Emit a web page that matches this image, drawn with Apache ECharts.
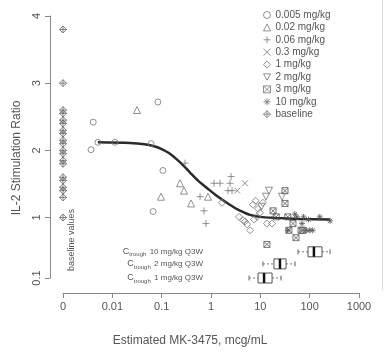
<!DOCTYPE html>
<html>
<head>
<meta charset="utf-8">
<script src="https://cdn.jsdelivr.net/npm/echarts@6/dist/echarts.min.js"></script>
<style>
  html, body { margin: 0; padding: 0; background: #fff; }
  #main { width: 388px; height: 352px; }
</style>
</head>
<body>
<div id="main"></div>
<script>
// x ticks (log axis, the "0" column sits at 0.001)
var xTickValues = [0.001, 0.01, 0.1, 1, 10, 100, 1000];
var xTickLabels = ['0', '0.01', '0.1', '1', '10', '100', '1000'];
var yTickValues = [0.1, 1, 2, 3, 4];

// points: [concentration, ratio]
var dose0005 = [[0.0041, 2.42], [0.0037, 2.01], [0.0051, 2.12], [0.0113, 2.12], [0.084, 2.72], [0.061, 2.10], [0.106, 1.70], [0.067, 1.09]];
var dose002 = [[0.0316, 2.60], [0.236, 1.51], [0.284, 1.40], [0.097, 1.31], [0.394, 1.21], [0.87, 1.31]];
var dose006 = [[0.297, 1.81], [0.60, 1.31], [0.72, 1.10], [0.79, 0.91], [1.15, 1.51], [1.52, 1.51], [2.55, 1.61], [2.21, 1.40], [2.67, 1.40], [2.43, 1.51]];
var dose03 = [[4.9, 1.51], [3.4, 1.40]];
var dose1 = [[1.67, 1.22], [3.7, 1.01], [4.46, 0.96], [4.9, 0.94], [5.4, 0.90], [6.2, 0.81], [7.1, 1.19], [8.0, 1.25], [9.0, 1.13], [9.8, 1.07], [11.3, 1.22], [8.6, 1.01], [13.6, 0.91], [17.2, 0.91], [7.5, 0.97]];
var dose2 = [[13.0, 1.31], [15.0, 1.40], [27.5, 1.31], [10.5, 1.16]];
var dose3 = [[31.6, 1.40], [31.6, 1.21], [18.1, 1.10], [13.6, 0.60], [45.9, 0.91], [52.8, 0.70], [38, 0.81], [67, 0.81], [73, 0.81], [21, 1.01], [36, 1.01]];
var dose10 = [[55, 1.01], [75, 1.01], [160, 1.01], [260, 0.95], [36, 0.81], [85, 0.81], [100, 0.81], [115, 0.81], [70, 0.91], [50, 1.05], [95, 0.97]];
var baselineX = 0.001;
var baselineY = [3.8, 3.0, 2.6, 2.55, 2.45, 2.4, 2.3, 2.25, 2.15, 2.1, 2.0, 1.95, 1.85, 1.8, 1.6, 1.55, 1.45, 1.4, 1.3, 1.0];

// fitted curve, traced
var fitX = [0.0051, 0.0228, 0.045, 0.07, 0.1, 0.14, 0.2, 0.28, 0.376, 0.546, 0.83, 1.32, 1.9, 2.79, 3.7, 6.18, 9.85, 19.9, 63.7, 259];
var fitY = [2.12, 2.11, 2.09, 2.06, 2.02, 1.96, 1.87, 1.77, 1.67, 1.55, 1.44, 1.32, 1.24, 1.16, 1.11, 1.04, 1.01, 0.995, 0.98, 0.97];

// Ctrough boxes: [y position, min, q1, median, q3, max]
var troughDose = ['10 mg/kg Q3W', '2 mg/kg Q3W', '1 mg/kg Q3W'];
var troughStats = [
  [0.49, 58, 92.6, 122, 178, 259],
  [0.31, 11.3, 18.9, 25.0, 33.2, 50.4],
  [0.10, 5.9, 9.0, 11.9, 17.3, 26.3]
];

var ptColor = '#777';
var font = 'Liberation Sans, Arial, sans-serif';

function pts(name, data, symbol, size, color) {
  return {
    name: name,
    type: 'scatter',
    data: data,
    symbol: symbol,
    symbolSize: size,
    clip: false,
    itemStyle: { color: 'rgba(0,0,0,0)', borderColor: color || ptColor, borderWidth: 1 },
    emphasis: { disabled: true }
  };
}

var baselineData = baselineY.map(function (v) { return [baselineX, v]; });

var series = [
  pts('0.005 mg/kg', dose0005, 'circle', 6),
  pts('0.02 mg/kg', dose002, 'triangle', 7),
  pts('0.06 mg/kg', dose006, 'path://M5 0L5 10M0 5L10 5', 7),
  pts('0.3 mg/kg', dose03, 'path://M0 0L10 10M10 0L0 10', 6),
  pts('1 mg/kg', dose1, 'diamond', 7),
  pts('2 mg/kg', dose2, 'path://M0 0L10 0L5 9Z', 7),
  pts('3 mg/kg', dose3, 'path://M0 0L10 0L10 10L0 10ZM0 0L10 10M10 0L0 10', 6, '#555'),
  pts('10 mg/kg', dose10, 'path://M5 0L5 10M0 5L10 5M1.5 1.5L8.5 8.5M8.5 1.5L1.5 8.5', 6, '#555'),
  pts('baseline', baselineData, 'path://M5 0L10 5L5 10L0 5ZM5 0L5 10M0 5L10 5', 7, '#666'),
  {
    type: 'line',
    data: fitX.map(function (x, i) { return [x, fitY[i]]; }),
    smooth: 0.3,
    symbol: 'none',
    lineStyle: { color: '#2a2a2a', width: 2.5 },
    silent: true,
    z: 1,
    markLine: {
      silent: true,
      symbol: 'none',
      label: { show: false },
      lineStyle: { color: '#999', type: 'dotted', width: 1 },
      data: [{ xAxis: baselineX }]
    }
  },
  {
    type: 'custom',
    data: troughStats,
    silent: true,
    renderItem: function (params, api) {
      var y = api.coord([1, api.value(0)])[1];
      var xs = [1, 2, 3, 4, 5].map(function (k) { return api.coord([api.value(k), 1])[0]; });
      var h = 10;
      var line = { stroke: '#666', lineWidth: 1 };
      var dash = { stroke: '#777', lineWidth: 1, lineDash: [2, 2] };
      var s = troughDose[params.dataIndex];
      return {
        type: 'group',
        children: [
          { type: 'line', shape: { x1: xs[0], y1: y, x2: xs[1], y2: y }, style: dash },
          { type: 'line', shape: { x1: xs[3], y1: y, x2: xs[4], y2: y }, style: dash },
          { type: 'line', shape: { x1: xs[0], y1: y - 2.5, x2: xs[0], y2: y + 2.5 }, style: line },
          { type: 'line', shape: { x1: xs[4], y1: y - 2.5, x2: xs[4], y2: y + 2.5 }, style: line },
          { type: 'rect', shape: { x: xs[1], y: y - h / 2, width: xs[3] - xs[1], height: h }, style: { fill: '#fff', stroke: '#555', lineWidth: 1 } },
          { type: 'line', shape: { x1: xs[2], y1: y - h / 2, x2: xs[2], y2: y + h / 2 }, style: { stroke: '#111', lineWidth: 2.5 } },
          {
            type: 'text',
            x: 203, y: y,
            style: {
              text: '{c|C}{s|trough} {t|' + s + '}',
              align: 'right', verticalAlign: 'middle',
              rich: {
                c: { fontSize: 9, fill: '#555', fontFamily: font },
                s: { fontSize: 6, fill: '#555', fontFamily: font, verticalAlign: 'bottom', padding: [4, 0, 0, 0] },
                t: { fontSize: 8, fill: '#555', fontFamily: font }
              }
            }
          }
        ]
      };
    }
  }
];

var option = {
  animation: false,
  backgroundColor: '#fff',
  textStyle: { fontFamily: font },
  grid: { left: 63, right: 29, top: 16, bottom: 74 },
  legend: {
    orient: 'vertical',
    left: 263,
    top: 9,
    padding: 0,
    itemWidth: 7,
    itemHeight: 7,
    itemGap: 0.4,
    itemStyle: { color: 'rgba(0,0,0,0)', borderColor: '#777', borderWidth: 1 },
    textStyle: { color: '#555', fontSize: 10, fontFamily: font, lineHeight: 12 },
    data: ['0.005 mg/kg', '0.02 mg/kg', '0.06 mg/kg', '0.3 mg/kg', '1 mg/kg', '2 mg/kg', '3 mg/kg', '10 mg/kg', 'baseline']
  },
  xAxis: {
    type: 'log',
    min: 0.001,
    max: 1000,
    offset: 15,
    name: 'Estimated MK-3475, mcg/mL',
    nameLocation: 'middle',
    nameGap: 42,
    nameTextStyle: { color: '#555', fontSize: 12, padding: [0, 42, 0, 0] },
    axisLine: { lineStyle: { color: '#888' } },
    axisTick: { length: 5, lineStyle: { color: '#888' }, customValues: xTickValues },
    axisLabel: {
      color: '#555', fontSize: 11, margin: 8,
      customValues: xTickValues,
      formatter: function (v) {
        for (var i = 0; i < xTickValues.length; i++) {
          if (Math.abs(Math.log10(v) - Math.log10(xTickValues[i])) < 1e-6) return xTickLabels[i];
        }
        return '';
      }
    },
    splitLine: { show: false },
    minorTick: { show: false }
  },
  yAxis: {
    type: 'value',
    min: 0.1,
    max: 4,
    offset: 13,
    name: 'IL-2 Stimulation Ratio',
    nameLocation: 'middle',
    nameGap: 24,
    nameTextStyle: { color: '#555', fontSize: 12, padding: [0, 22, 0, 0] },
    axisLine: { show: true, lineStyle: { color: '#888' } },
    axisTick: { show: true, length: 5, lineStyle: { color: '#888' }, customValues: yTickValues },
    axisLabel: { color: '#555', fontSize: 11, rotate: 90, margin: 8, customValues: yTickValues },
    splitLine: { show: false }
  },
  graphic: [
    {
      type: 'text',
      x: 72, y: 240,
      rotation: Math.PI / 2,
      style: { text: 'baseline values', fill: '#555', fontSize: 9, fontFamily: font, align: 'center', verticalAlign: 'middle' }
    },
    { type: 'line', shape: { x1: 382.5, y1: 0, x2: 382.5, y2: 290 }, style: { stroke: '#ddd', lineWidth: 1 } }
  ],
  series: series
};

var myChart = echarts.init(document.getElementById('main'));
myChart.setOption(option);
</script>
</body>
</html>
